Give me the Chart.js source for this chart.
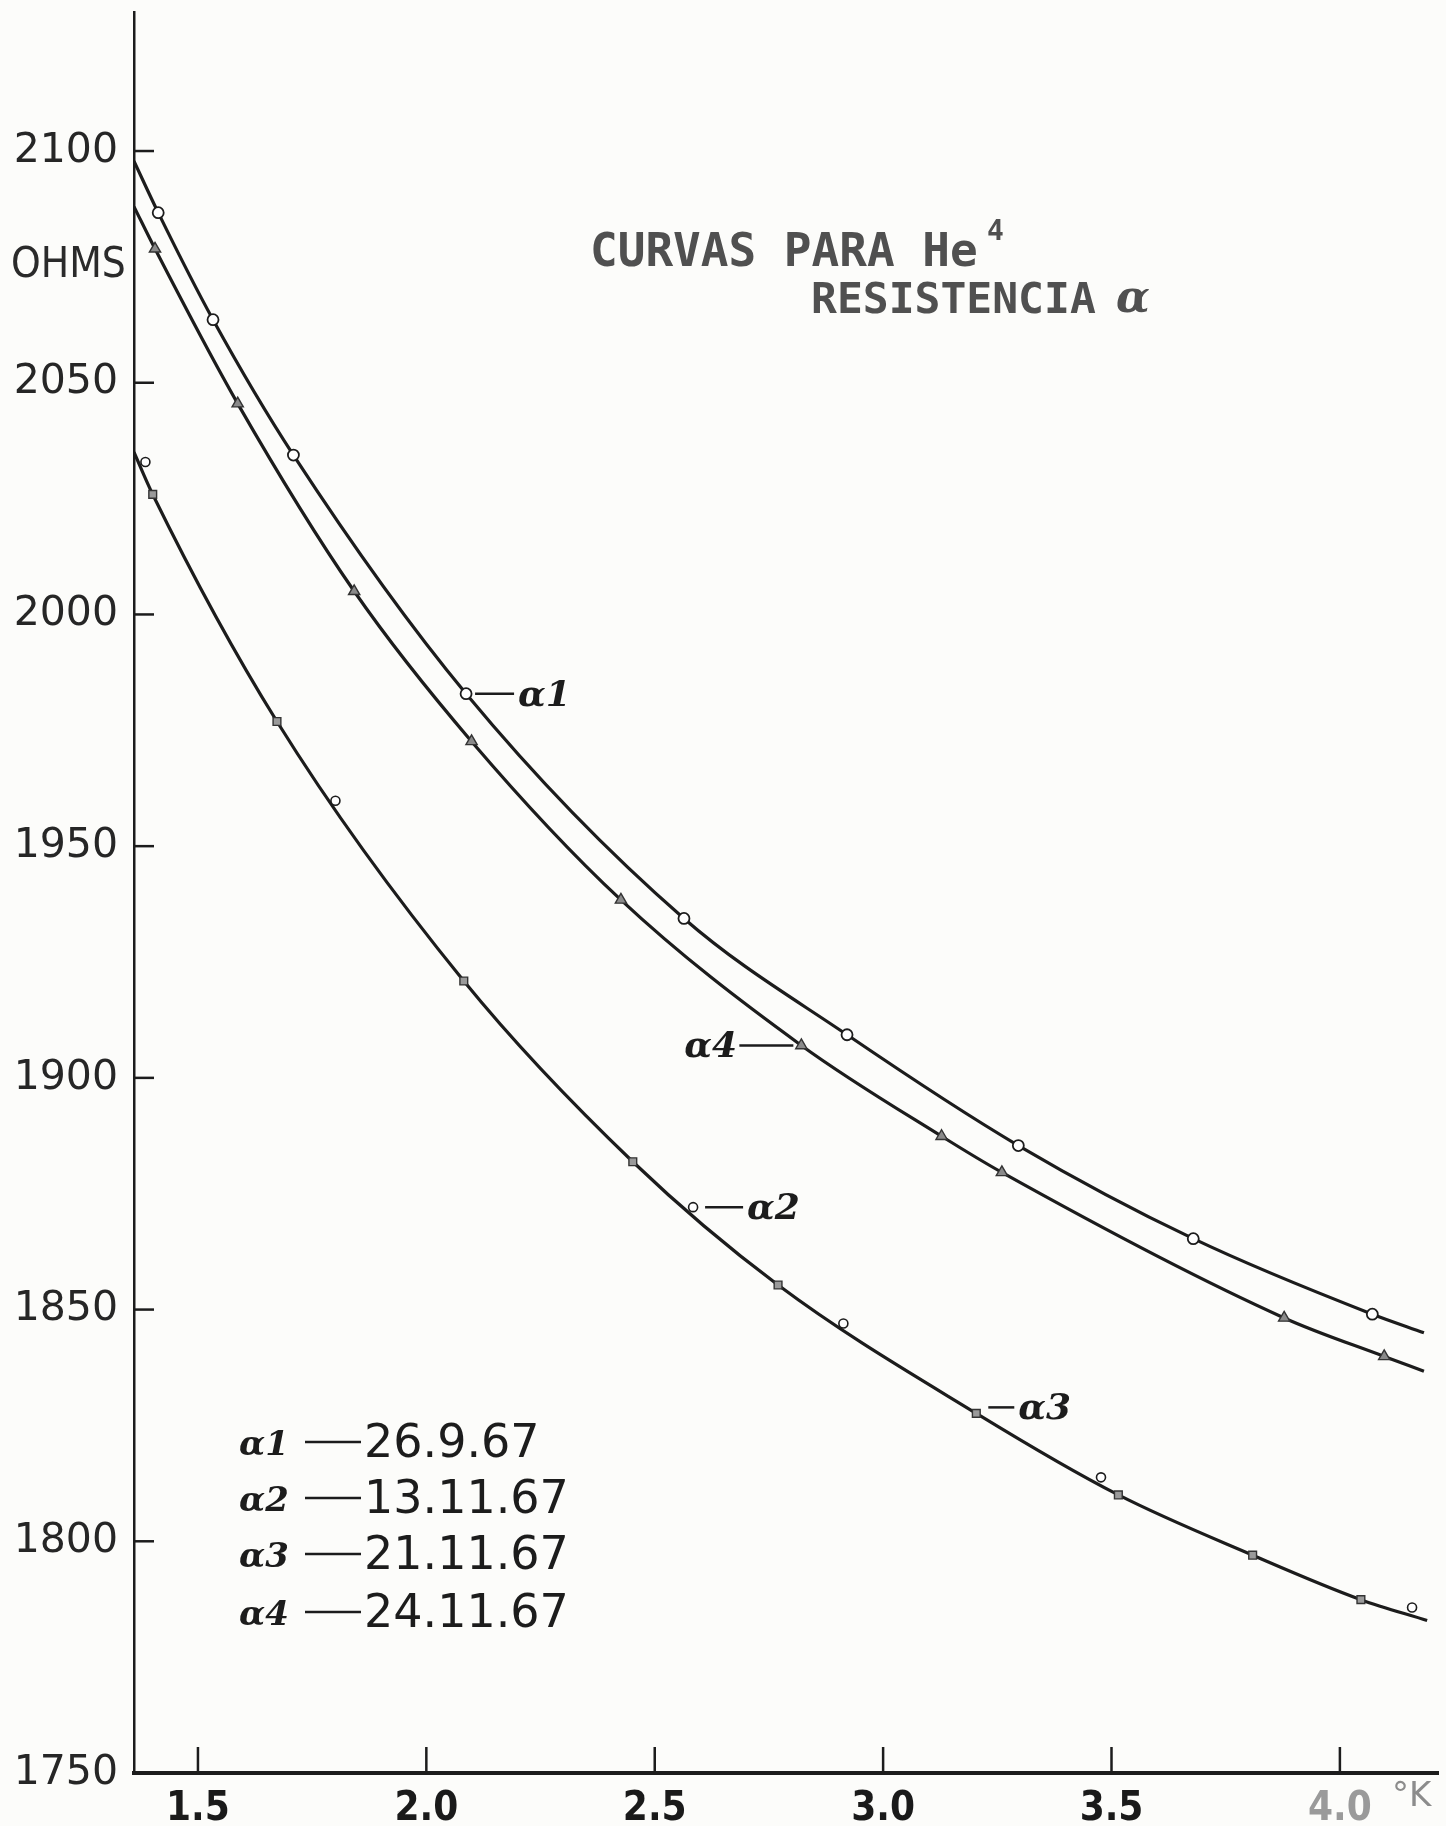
<!DOCTYPE html>
<html><head><meta charset="utf-8">
<script src="https://cdn.jsdelivr.net/npm/chart.js@4.4.0/dist/chart.umd.min.js"></script>
<style>html,body{margin:0;padding:0;background:#fcfcfa;}canvas{display:block}</style>
</head><body>
<canvas id="c" width="1446" height="1826"></canvas>
<script>
// ---- tick values ----
const xTickVals = [1.5, 2.0, 2.5, 3.0, 3.5, 4.0];
const yTickVals = [1750, 1800, 1850, 1900, 1950, 2000, 2050, 2100];

// ---- measured points (temperature °K, resistance ohms) ----
const alpha1T = [1.413, 1.533, 1.709, 2.087, 2.564, 2.921, 3.296, 3.679, 4.071];
const alpha1R = [2086.7, 2063.6, 2034.4, 1982.9, 1934.4, 1909.3, 1885.4, 1865.3, 1849.0];

const alpha2T = [1.385, 1.801, 2.584, 2.913, 3.477, 4.158];
const alpha2R = [2032.9, 1959.8, 1872.1, 1847.0, 1813.8, 1785.7];

const alpha3T = [1.401, 1.673, 2.082, 2.452, 2.770, 3.204, 3.515, 3.809, 4.046];
const alpha3R = [2025.9, 1976.9, 1920.9, 1881.9, 1855.3, 1827.6, 1810.0, 1797.0, 1787.4];

const alpha4T = [1.406, 1.587, 1.842, 2.099, 2.426, 2.821, 3.128, 3.260, 3.878, 4.097];
const alpha4R = [2078.9, 2045.5, 2005.0, 1972.6, 1938.4, 1907.0, 1887.4, 1879.6, 1848.2, 1839.9];

// ---- hand-drawn curves ----
const curveUpperT = [1.36, 1.413, 1.533, 1.709, 2.087, 2.564, 2.921, 3.296, 3.679, 4.071, 4.184];
const curveUpperR = [2097.8, 2086.7, 2063.6, 2034.4, 1982.9, 1934.4, 1909.3, 1885.4, 1865.3, 1849.0, 1845.0];

const curveMidT = [1.36, 1.406, 1.587, 1.842, 2.099, 2.426, 2.821, 3.128, 3.260, 3.878, 4.097, 4.184];
const curveMidR = [2088.0, 2078.9, 2045.5, 2005.0, 1972.6, 1938.4, 1907.0, 1887.4, 1879.6, 1848.2, 1839.9, 1836.7];

const curveLowT = [1.36, 1.401, 1.673, 2.082, 2.452, 2.770, 3.204, 3.515, 3.809, 4.046, 4.191];
const curveLowR = [2035.0, 2025.9, 1976.9, 1920.9, 1881.9, 1855.3, 1827.6, 1810.0, 1797.0, 1787.4, 1782.9];

// ---- legend text ----
const seriesNames = ['1', '2', '3', '4'];
const seriesDates = ['26.9.67', '13.11.67', '21.11.67', '24.11.67'];

const pts = (xs, ys) => xs.map((x, i) => ({x: x, y: ys[i]}));
const INK = '#1c1c1c';

const curveDs = (xs, ys) => ({
  data: pts(xs, ys), showLine: true, borderColor: INK, borderWidth: 3.2,
  pointRadius: 0, cubicInterpolationMode: 'monotone', fill: false, order: 2
});

const annot = {
  id: 'annot',
  afterDraw(chart) {
    const {ctx, chartArea: a} = chart;
    const x = chart.scales.x, y = chart.scales.y;
    ctx.save();
    // inward tick marks
    ctx.strokeStyle = INK; ctx.lineWidth = 2.5;
    yTickVals.forEach(v => {
      if (v === 1750) return;
      const py = y.getPixelForValue(v);
      ctx.beginPath(); ctx.moveTo(a.left, py); ctx.lineTo(a.left + 20, py); ctx.stroke();
    });
    xTickVals.forEach(v => {
      const px = x.getPixelForValue(v);
      ctx.beginPath(); ctx.moveTo(px, a.bottom); ctx.lineTo(px, a.bottom - 26); ctx.stroke();
    });

    ctx.textBaseline = 'alphabetic';
    ctx.textAlign = 'left';
    // axis unit labels
    ctx.fillStyle = '#2a2a2a';
    ctx.font = '42px "DejaVu Sans Condensed", "DejaVu Sans", sans-serif';
    ctx.fillText('OHMS', 11, 277);
    ctx.fillStyle = '#8c8c8c';
    ctx.font = '34px "DejaVu Sans", sans-serif';
    ctx.fillText('°K', 1392, 1806);

    // title
    ctx.fillStyle = '#505050';
    ctx.font = 'bold 46px "DejaVu Sans Mono", monospace';
    ctx.fillText('CURVAS PARA He', 590, 266);
    ctx.font = 'bold 28px "DejaVu Sans Mono", monospace';
    ctx.fillText('4', 987, 240);
    ctx.font = 'bold 43px "DejaVu Sans Mono", monospace';
    ctx.fillText('RESISTENCIA', 811, 313);
    ctx.font = 'italic bold 44px "DejaVu Serif", serif';
    ctx.fillText('α', 1116, 312);

    // curve labels (anchored on marked points)
    const lab = (px, py, dashFrom, dashTo, txt, tx) => {
      ctx.strokeStyle = INK; ctx.lineWidth = 2.5;
      ctx.beginPath(); ctx.moveTo(px + dashFrom, py); ctx.lineTo(px + dashTo, py); ctx.stroke();
      ctx.fillStyle = INK;
      ctx.font = 'italic bold 36px "DejaVu Serif", serif';
      ctx.fillText(txt, px + tx, py + 12);
    };
    lab(x.getPixelForValue(alpha1T[3]), y.getPixelForValue(alpha1R[3]), 9, 48, 'α1', 52);
    lab(x.getPixelForValue(alpha4T[5]), y.getPixelForValue(alpha4R[5]), -62, -8, 'α4', -117);
    lab(x.getPixelForValue(alpha2T[2]), y.getPixelForValue(alpha2R[2]), 12, 50, 'α2', 54);
    lab(x.getPixelForValue(alpha3T[5]), y.getPixelForValue(alpha3R[5]) - 6, 12, 38, 'α3', 42);

    // legend block
    const legY = [1457, 1513, 1569, 1627];
    seriesNames.forEach((n, i) => {
      ctx.fillStyle = INK;
      ctx.font = 'italic bold 34px "DejaVu Serif", serif';
      ctx.fillText('α' + n, 239, legY[i] - 2);
      ctx.strokeStyle = INK; ctx.lineWidth = 2.5;
      ctx.beginPath(); ctx.moveTo(305, legY[i] - 15); ctx.lineTo(361, legY[i] - 15); ctx.stroke();
      ctx.font = '46px "DejaVu Sans", sans-serif';
      ctx.fillText(seriesDates[i], 364, legY[i]);
    });
    ctx.restore();
  }
};

new Chart(document.getElementById('c'), {
  type: 'scatter',
  data: {
    datasets: [
      {label: 'α1', data: pts(alpha1T, alpha1R), pointStyle: 'circle', pointRadius: 5.5,
        backgroundColor: '#ffffff', borderColor: INK, borderWidth: 1.8, order: 0},
      {label: 'α2', data: pts(alpha2T, alpha2R), pointStyle: 'circle', pointRadius: 4.5,
        backgroundColor: '#ffffff', borderColor: INK, borderWidth: 1.6, order: 0},
      {label: 'α3', data: pts(alpha3T, alpha3R), pointStyle: 'rect', pointRadius: 5.5,
        backgroundColor: '#9a9a9a', borderColor: '#333', borderWidth: 1.4, order: 0},
      {label: 'α4', data: pts(alpha4T, alpha4R), pointStyle: 'triangle', pointRadius: 6.5,
        backgroundColor: '#8a8a8a', borderColor: '#333', borderWidth: 1.4, order: 0},
      curveDs(curveUpperT, curveUpperR),
      curveDs(curveMidT, curveMidR),
      curveDs(curveLowT, curveLowR)
    ]
  },
  options: {
    responsive: false, animation: false, devicePixelRatio: 1,
    layout: {padding: {top: 12, right: 0, left: 0, bottom: 0}},
    plugins: {legend: {display: false}, tooltip: {enabled: false}, title: {display: false}},
    scales: {
      x: {
        type: 'linear', min: 1.36, max: 4.215,
        afterFit: s => { s.height = 53; s.paddingLeft = 0; s.paddingRight = 0; s.paddingTop = 0; s.paddingBottom = 0; },
        grid: {display: false, drawTicks: false},
        border: {display: true, color: INK, width: 4},
        ticks: {
          stepSize: 0.5, includeBounds: false, padding: 13,
          autoSkip: false, maxRotation: 0,
          callback: v => xTickVals.some(t => Math.abs(t - v) < 1e-6) ? v.toFixed(1) : '',
          color: c => (c.tick && Math.abs(c.tick.value - 4) < 1e-6) ? '#9a9a9a' : '#1a1a1a',
          font: {family: '"Liberation Sans Narrow", "DejaVu Sans Condensed", sans-serif', size: 40, weight: 'bold'}
        }
      },
      y: {
        type: 'linear', min: 1750, max: 2130,
        afterFit: s => { s.width = 134; s.paddingTop = 0; s.paddingBottom = 0; s.paddingLeft = 0; s.paddingRight = 0; },
        grid: {display: false, drawTicks: false},
        border: {display: true, color: INK, width: 2.5},
        ticks: {
          stepSize: 50, includeBounds: false, padding: 16, autoSkip: false,
          callback: v => yTickVals.includes(v) ? String(v) : '',
          color: '#262626',
          font: {family: '"DejaVu Sans", sans-serif', size: 41}
        }
      }
    }
  },
  plugins: [annot]
});
</script>
</body></html>
